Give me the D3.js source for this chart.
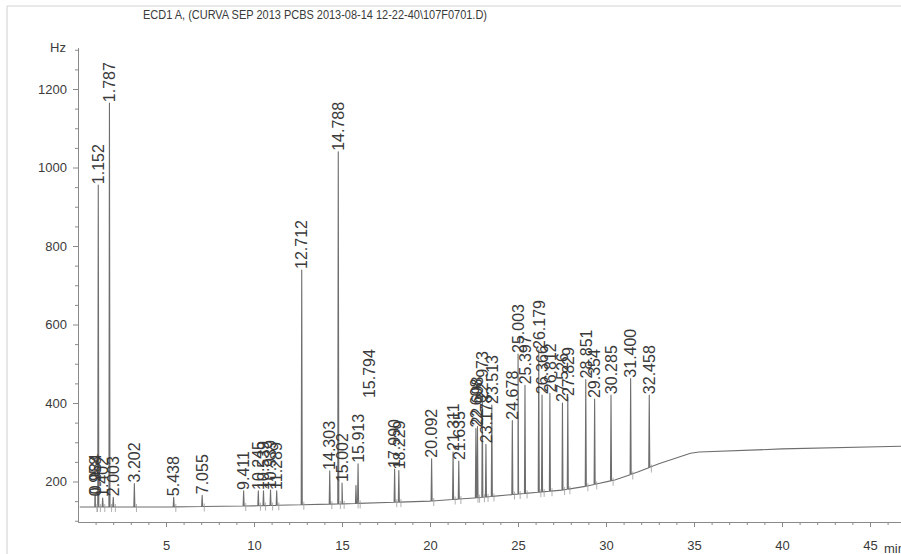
<!DOCTYPE html>
<html>
<head>
<meta charset="utf-8">
<script src="https://cdn.jsdelivr.net/npm/d3@7"></script>
<style>
  html, body { margin: 0; padding: 0; background: #ffffff; }
  svg { display: block; }
  text { font-family: "Liberation Sans", Arial, sans-serif; }
</style>
</head>
<body>
<svg id="chart" width="901" height="554"></svg>
<script>
// ---------------- data ----------------
const titleText = "ECD1 A,  (CURVA SEP 2013 PCBS 2013-08-14 12-22-40\\107F0701.D)";
const yUnit = "Hz";
const xUnit = "min";

const peakTimes = [0.958, 0.984, 1.152, 1.402, 1.787, 2.003, 3.202, 5.438, 7.055, 9.411,
  10.245, 10.539, 10.939, 11.289, 12.712, 14.303, 14.788, 15.002, 15.794, 15.913,
  17.990, 18.229, 20.092, 21.311, 21.635, 22.608, 22.698, 22.973, 23.178, 23.513,
  24.678, 25.003, 25.397, 26.179, 26.366, 26.812, 27.526, 27.829, 28.851, 29.354,
  30.285, 31.400, 32.458];
const peakHz = [160, 165, 955, 158, 1164, 160, 195, 160, 165, 176,
  176, 176, 178, 176, 739, 227, 1040, 196, 190, 245,
  232, 228, 258, 275, 252, 335, 340, 405, 295, 395,
  355, 525, 445, 535, 420, 425, 400, 415, 460, 410,
  420, 462, 420];

const baseT  = [0.1, 5, 10, 15, 20, 22.5, 25, 27.5, 29, 30.5, 31.8, 33, 34.8, 35.3, 40, 46.8];
const baseHz = [135, 135, 138, 143, 150, 158, 168, 178, 189, 204, 224, 245, 272, 275, 283, 290];

const yMajorTicks = [200, 400, 600, 800, 1000, 1200];
const xMajorTicks = [5, 10, 15, 20, 25, 30, 35, 40, 45];

// ---------------- drawing ----------------
const svg = d3.select("#chart");
const x = d3.scaleLinear().domain([0, 45]).range([78, 870]);
const y = d3.scaleLinear().domain([200, 1200]).range([481.5, 89]);
const base = d3.scaleLinear().domain(baseT).range(baseHz);

const axisColor = "#8a8a8a";
const traceColor = "#6e6e6e";
const textColor = "#3a3a3a";

// scan page border lines
svg.append("line").attr("x1", 7).attr("x2", 901).attr("y1", 6).attr("y2", 6)
  .attr("stroke", "#d4d4d4").attr("stroke-width", 1);
svg.append("line").attr("x1", 7).attr("x2", 7).attr("y1", 6).attr("y2", 554)
  .attr("stroke", "#cfcfcf").attr("stroke-width", 1);

// title
svg.append("text").attr("x", 143).attr("y", 19)
  .attr("font-size", 12).attr("fill", textColor)
  .attr("textLength", 344).attr("lengthAdjust", "spacingAndGlyphs")
  .text(titleText);

// y axis
const yAxisScale = y.copy().domain([97, 1305]).range([y(97), y(1305)]);
const yMinor = d3.range(100, 1301, 50).filter(v => !yMajorTicks.includes(v));
const gyMinor = svg.append("g").attr("transform", "translate(78,0)")
  .call(d3.axisLeft(yAxisScale).tickValues(yMinor).tickSize(3).tickSizeOuter(0).tickFormat(""));
const gy = svg.append("g").attr("transform", "translate(78,0)")
  .call(d3.axisLeft(yAxisScale).tickValues(yMajorTicks).tickSize(5).tickSizeOuter(0)
    .tickPadding(6).tickFormat(d3.format("d")));
[gy, gyMinor].forEach(g => {
  g.selectAll("path,line").attr("stroke", axisColor);
  g.selectAll("text").attr("font-size", 13).attr("fill", textColor)
    .attr("font-family", "Liberation Sans, Arial, sans-serif");
});
svg.append("text").attr("x", 66).attr("y", 52).attr("text-anchor", "end")
  .attr("font-size", 13).attr("fill", textColor).text(yUnit);

// x axis
const xAxisScale = x.copy().domain([0, 47]).range([x(0), x(47)]);
const xMinor = d3.range(1, 47, 1).filter(v => !xMajorTicks.includes(v));
const gxMinor = svg.append("g").attr("transform", "translate(0,522)")
  .call(d3.axisBottom(xAxisScale).tickValues(xMinor).tickSize(3).tickSizeOuter(0).tickFormat(""));
const gx = svg.append("g").attr("transform", "translate(0,522)")
  .call(d3.axisBottom(xAxisScale).tickValues(xMajorTicks).tickSize(5).tickSizeOuter(0).tickPadding(14));
[gx, gxMinor].forEach(g => {
  g.selectAll("path,line").attr("stroke", axisColor);
  g.selectAll("text").attr("font-size", 13).attr("fill", textColor)
    .attr("font-family", "Liberation Sans, Arial, sans-serif");
});
svg.append("text").attr("x", x(45) + 14).attr("y", 553)
  .attr("font-size", 13).attr("fill", textColor).text(xUnit);

// chromatogram trace: baseline knots + narrow peaks
const pts = [];
baseT.forEach((t, i) => pts.push([t, baseHz[i]]));
peakTimes.forEach((t, i) => {
  pts.push([t - 0.03, base(t - 0.03)]);
  pts.push([t, peakHz[i]]);
  pts.push([t + 0.03, base(t + 0.03)]);
});
pts.sort((a, b) => a[0] - b[0]);
const line = d3.line().x(d => x(d[0])).y(d => y(d[1])).curve(d3.curveLinear);
svg.append("path").datum(pts.filter(d => d[0] <= 46.8)).attr("d", line)
  .attr("fill", "none").attr("stroke", traceColor).attr("stroke-width", 1.1)
  .attr("stroke-linejoin", "round");

// integration markers at peak bases
svg.append("g").selectAll("line").data(peakTimes).join("line")
  .attr("x1", t => x(t + 0.12)).attr("x2", t => x(t + 0.12))
  .attr("y1", t => y(base(t)) - 3).attr("y2", t => y(base(t)) + 5)
  .attr("stroke", "#9a9a9a").attr("stroke-width", 0.8);

// peak labels
const nudge = { "15.794": { dx: 13, hz: 410 } };
const fmt = d3.format(".3f");
svg.append("g").selectAll("text").data(peakTimes).join("text")
  .attr("transform", (t, i) => {
    const lab = fmt(t);
    const n = nudge[lab];
    const px = x(t) + (n ? n.dx : 0);
    const py = y(n ? n.hz : peakHz[i]) - 1;
    return `translate(${px},${py}) rotate(-90)`;
  })
  .attr("dy", "0.36em")
  .attr("font-size", 16).attr("fill", textColor)
  .text(t => fmt(t));
</script>
</body>
</html>
